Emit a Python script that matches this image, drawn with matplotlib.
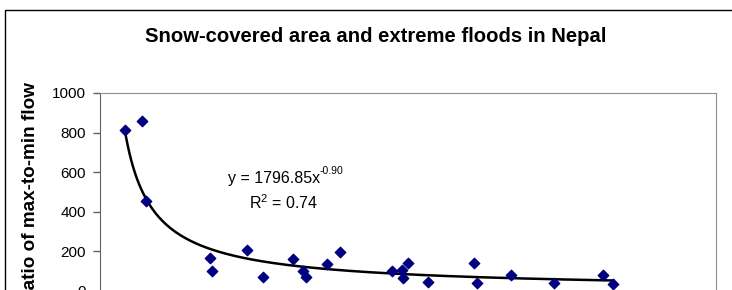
import numpy as np
import matplotlib
matplotlib.use('Agg')
import matplotlib.pyplot as plt
from matplotlib.patches import Rectangle

plt.rcParams['font.family'] = ['Liberation Sans', 'DejaVu Sans']
plt.rcParams['mathtext.fontset'] = 'custom'
plt.rcParams['mathtext.rm'] = 'Liberation Sans'
plt.rcParams['mathtext.it'] = 'Liberation Sans'

# snow-covered area (x) and ratio of max-to-min flow (y)
snow_area = [2.4, 4.1, 4.5, 10.7, 10.9, 14.3, 15.9, 18.8, 19.8, 20.1, 22.1, 23.4,
             28.4, 29.4, 29.5, 30.0, 31.9, 36.4, 36.7, 40.0, 44.2, 49.0, 50.0]
flow_ratio = [811, 857, 456, 168, 99, 209, 72, 160, 101, 72, 135, 195,
              103, 108, 66, 141, 47, 141, 39, 82, 39, 81, 37]

# power trendline y = a * x^b
fit_a = 1796.85
fit_b = -0.90

y_ticks = [0, 200, 400, 600, 800, 1000]

W, H = 732, 290
fig = plt.figure(figsize=(W / 100, H / 100), dpi=100)

# outer chart border (runs off the right and bottom of the picture)
fig.patches.append(Rectangle((5 / W, -0.1), 1.2, (H - 10) / H + 0.1,
                             transform=fig.transFigure, fill=False,
                             edgecolor='black', linewidth=1.0))

left, right, top, bottom = 100, 716, 93, 291
ax = fig.add_axes([left / W, (H - bottom) / H, (right - left) / W, (bottom - top) / H])

xs = np.linspace(min(snow_area), max(snow_area), 300)
ax.plot(xs, fit_a * xs ** fit_b, color='black', linewidth=1.8, zorder=2)
ax.scatter(snow_area, flow_ratio, marker='D', s=28, color='#000080',
           edgecolors='#000080', zorder=3)

ax.set_xlim(0, 60)
ax.set_ylim(0, 1000)
ax.set_yticks(y_ticks)
ax.tick_params(axis='y', labelsize=11, length=5, width=1, color='#606060', pad=5)
ax.tick_params(axis='x', labelbottom=False, length=0)
for side in ['top', 'right']:
    ax.spines[side].set_color('#909090')
for side in ['left', 'bottom']:
    ax.spines[side].set_color('#606060')

# trendline equation, superscript drawn as its own small text
fig.text(320 / W, (H - 178) / H, 'y = 1796.85x', fontsize=11.5,
         ha='right', va='center')
fig.text(320 / W, (H - 171.5) / H, '-0.90', fontsize=7.5, ha='left', va='center')
fig.text(284 / W, (H - 203) / H, 'R$^2$ = 0.74', fontsize=11.5, ha='center', va='center')

fig.text(376 / W, (H - 37) / H, 'Snow-covered area and extreme floods in Nepal',
         fontsize=14.6, fontweight='bold', ha='center', va='center')
fig.text(31 / W, (H - 193) / H, 'Ratio of max-to-min flow', rotation=90,
         fontsize=13.6, fontweight='bold', ha='center', va='center')

fig.savefig('out.png', dpi=100)
